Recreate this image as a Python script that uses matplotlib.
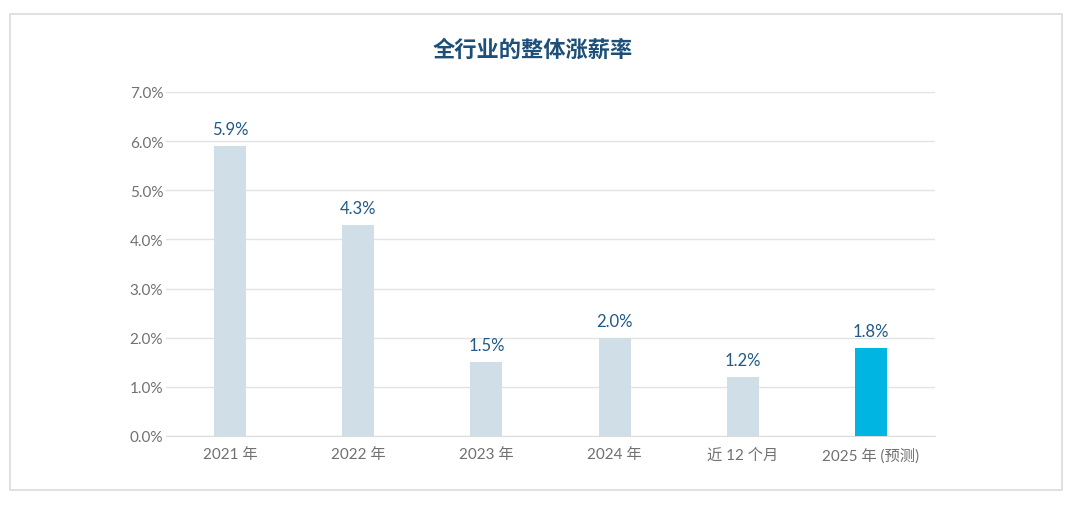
import matplotlib.pyplot as plt
from matplotlib.patches import Rectangle
from matplotlib.ticker import FuncFormatter

plt.rcParams['font.family'] = ['Lato', 'Noto Sans CJK SC', 'DejaVu Sans']

# 数据
categories = ['2021 年', '2022 年', '2023 年', '2024 年', '近 12 个月', '2025 年 (预测)']
values = [5.9, 4.3, 1.5, 2.0, 1.2, 1.8]
bar_colors = ['#d0dfe7', '#d0dfe7', '#d0dfe7', '#d0dfe7', '#d0dfe7', '#00b5e2']

fig = plt.figure(figsize=(10.8, 5.06), dpi=100)
fig.patch.set_facecolor('white')

# moldura cinza
fig.patches.append(Rectangle((10 / 1080, 1 - 491 / 506), 1052 / 1080, 476 / 506,
                             transform=fig.transFigure, fill=False,
                             edgecolor='#dcdcdc', linewidth=1.2))

ax = fig.add_axes([0.1537, 0.1364, 0.712, 0.68])
x = list(range(len(categories)))
ax.bar(x, values, width=0.25, color=bar_colors, zorder=3)

for xi, v in zip(x, values):
    ax.text(xi, v + 0.18, f'{v:.1f}%', ha='center', va='bottom',
            fontsize=12, color='#1f5a88', zorder=4)

ax.set_xlim(-0.5, 5.5)
ax.set_ylim(0, 7)
ax.set_yticks([0, 1, 2, 3, 4, 5, 6, 7])
ax.yaxis.set_major_formatter(FuncFormatter(lambda v, p: f'{v:.1f}%'))
ax.set_xticks(x)
ax.set_xticklabels(categories)
ax.tick_params(axis='both', length=0, labelsize=11, labelcolor='#707070')
ax.tick_params(axis='x', pad=8)
ax.tick_params(axis='y', pad=2)
ax.grid(axis='y', color='#e3e3e3', linewidth=1, zorder=0)
for s in ['top', 'right', 'left']:
    ax.spines[s].set_visible(False)
ax.spines['bottom'].set_color('#dcdcdc')

fig.text(0.4935, 1 - 50 / 506, '全行业的整体涨薪率', ha='center', va='center',
         fontsize=16, fontweight='bold', color='#1d4f78')

fig.savefig('out.png', dpi=100)
